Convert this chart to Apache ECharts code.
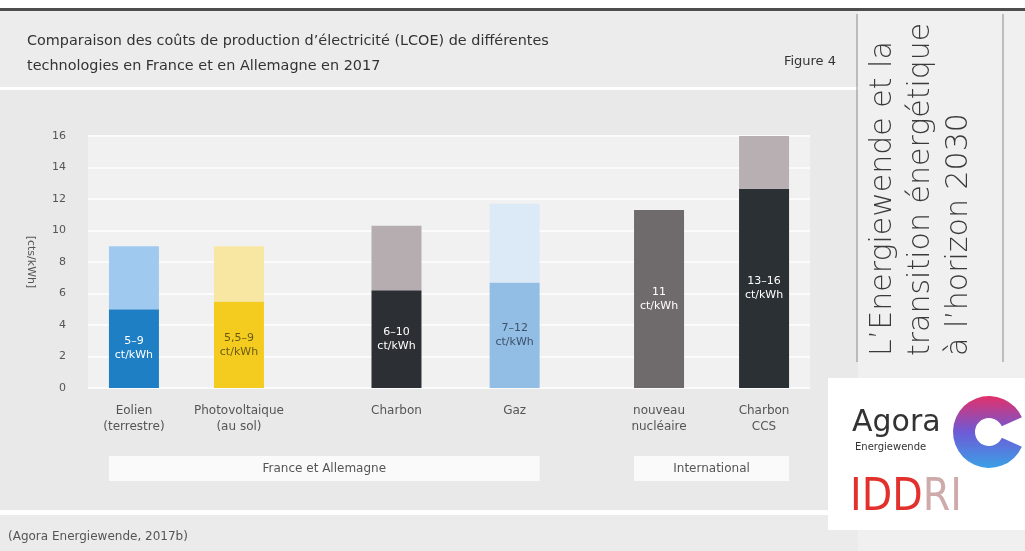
<!DOCTYPE html>
<html>
<head>
<meta charset="utf-8">
<script src="https://cdn.jsdelivr.net/npm/echarts@6/dist/echarts.min.js"></script>
<style>
  html, body { margin: 0; padding: 0; background: #fff; }
  #chart { width: 1025px; height: 551px; }
</style>
</head>
<body>
<div id="chart"></div>
<script>
// données (ct/kWh)
const categories = ['Eolien\n(terrestre)', 'Photovoltaique\n(au sol)', 'Charbon', 'Gaz', 'nouveau\nnucléaire', 'Charbon\nCCS'];
const lowValues = [5, 5.5, 6.2, 6.7, 11.3, 12.65];
const highValues = [9, 9, 10.3, 11.7, 11.3, 16];
const rangeLabels = ['5–9', '5,5–9', '6–10', '7–12', '11', '13–16'];
const groupNames = ['France et Allemagne', 'International'];
const groupMembers = [[0, 1, 2, 3], [4, 5]];
const yTicks = [0, 2, 4, 6, 8, 10, 12, 14, 16];

// mise en page : emplacement de chaque barre sur l'axe (cases vides entre les barres)
const slotCount = 55;
const slotOf = [3, 11, 23, 32, 43, 51];
const barW = 50;

// couleurs
const baseColors = ['#1f7fc4', '#f3cc1f', '#2c3034', '#92bee6', '#6f6a6b', '#2b3034'];
const topColors = ['#9fc9ee', '#f7e7a2', '#b5adb0', '#dce9f6', '#6f6a6b', '#b8afb2'];
const labelColors = ['#ffffff', '#6b5a14', '#ffffff', '#3d5168', '#ffffff', '#ffffff'];
const FONT = 'DejaVu Sans';

let xData = Array(slotCount).fill('');
let baseData = Array(slotCount).fill('-');
let topData = Array(slotCount).fill('-');
categories.forEach((c, i) => {
  let s = slotOf[i];
  xData[s] = c;
  baseData[s] = {value: lowValues[i], itemStyle: {color: baseColors[i]}, label: {color: labelColors[i]}};
  let d = highValues[i] - lowValues[i];
  topData[s] = d > 0 ? {value: d, itemStyle: {color: topColors[i]}} : '-';
});

let myChart = echarts.init(document.getElementById('chart'));

const bgGraphics = [
  {type: 'rect', z: -10, shape: {x: 0, y: 0, width: 1025, height: 551}, style: {fill: '#ffffff'}},
  {type: 'rect', z: -10, shape: {x: 0, y: 8, width: 1025, height: 3}, style: {fill: '#4d4d4d'}},
  {type: 'rect', z: -10, shape: {x: 0, y: 11, width: 858, height: 76}, style: {fill: '#ececec'}},
  {type: 'rect', z: -10, shape: {x: 0, y: 90, width: 858, height: 420}, style: {fill: '#e9e9e9'}},
  {type: 'rect', z: -10, shape: {x: 0, y: 515, width: 858, height: 36}, style: {fill: '#ebebeb'}},
  {type: 'rect', z: -10, shape: {x: 858, y: 11, width: 167, height: 540}, style: {fill: '#f0f0f0'}},
  {type: 'line', z: -9, shape: {x1: 857, y1: 14, x2: 857, y2: 362}, style: {stroke: '#8a8a8a', lineWidth: 1}},
  {type: 'line', z: -9, shape: {x1: 1003, y1: 14, x2: 1003, y2: 362}, style: {stroke: '#8a8a8a', lineWidth: 1}},
  {type: 'rect', z: -9, shape: {x: 828, y: 378, width: 197, height: 152}, style: {fill: '#ffffff'}}
];

const sideLines = ['L’Energiewende et la', 'transition énergétique', 'à l’horizon 2030'];
const textGraphics = [
  {type: 'text', x: 836, y: 62, style: {text: 'Figure 4', font: '13px "' + FONT + '"', fill: '#333', align: 'right', verticalAlign: 'middle'}},
  {type: 'text', x: 8, y: 537, style: {text: '(Agora Energiewende, 2017b)', font: '12px "' + FONT + '"', fill: '#555', align: 'left', verticalAlign: 'middle'}},
  {type: 'text', x: 852, y: 423, style: {text: 'Agora', font: '30px "' + FONT + '"', fill: '#333', align: 'left', verticalAlign: 'middle'}},
  {type: 'text', x: 855, y: 447, style: {text: 'Energiewende', font: '10px "' + FONT + '"', fill: '#333', align: 'left', verticalAlign: 'middle'}},
  {type: 'text', x: 850, y: 499, style: {
    text: '{a|IDD}{b|RI}', align: 'left', verticalAlign: 'middle',
    rich: {
      a: {fontSize: 44, fontFamily: '"DejaVu Sans Condensed", Roboto, sans-serif', fontWeight: 200, fill: '#e2312d', color: '#e2312d'},
      b: {fontSize: 44, fontFamily: '"DejaVu Sans Condensed", Roboto, sans-serif', fontWeight: 200, fill: '#cfaaaa', color: '#cfaaaa'}
    }
  }},
  {type: 'sector', shape: {cx: 989, cy: 432, r: 36, r0: 14, startAngle: 0.42, endAngle: Math.PI * 2 - 0.42, clockwise: true},
    style: {fill: new echarts.graphic.LinearGradient(0, 0, 0, 1, [
      {offset: 0, color: '#e2306a'}, {offset: 0.5, color: '#6e5ad6'}, {offset: 1, color: '#3aa0e6'}
    ])}}
].concat(sideLines.map((t, i) => ({
  type: 'text', x: 883 + i * 38, y: 356, rotation: Math.PI / 2,
  style: {text: t, font: '200 30px "' + FONT + '"', fill: '#3a3a3a', align: 'left', verticalAlign: 'middle'}
})));

myChart.setOption({
  animation: false,
  textStyle: {fontFamily: FONT},
  title: {
    text: 'Comparaison des coûts de production d’électricité (LCOE) de différentes\ntechnologies en France et en Allemagne en 2017',
    left: 22,
    top: 24,
    textStyle: {fontSize: 14.4, fontWeight: 'normal', color: '#333', lineHeight: 25, fontFamily: FONT}
  },
  grid: {
    show: true,
    backgroundColor: '#f1f1f1',
    borderWidth: 0,
    left: 88,
    right: 215,
    top: 136,
    bottom: 163,
    containLabel: false
  },
  xAxis: {
    type: 'category',
    data: xData,
    axisLine: {show: false},
    axisTick: {show: false},
    axisLabel: {interval: 0, color: '#555', fontSize: 12, lineHeight: 16, margin: 15}
  },
  yAxis: {
    type: 'value',
    min: yTicks[0],
    max: yTicks[yTicks.length - 1],
    interval: 2,
    name: '[cts/kWh]',
    nameLocation: 'middle',
    nameRotate: -90,
    nameGap: 52,
    nameTextStyle: {color: '#555', fontSize: 11},
    axisLine: {show: false},
    axisTick: {show: false},
    axisLabel: {color: '#555', fontSize: 11, margin: 22},
    splitLine: {lineStyle: {color: '#fbfbfb', width: 2}}
  },
  series: [{
    name: 'min',
    type: 'bar',
    stack: 'lcoe',
    barWidth: barW,
    data: baseData,
    label: {
      show: true,
      position: 'inside',
      fontSize: 11,
      lineHeight: 14,
      formatter: function (p) {
        let i = slotOf.indexOf(p.dataIndex);
        return rangeLabels[i] + '\nct/kWh';
      }
    }
  }, {
    name: 'max',
    type: 'bar',
    stack: 'lcoe',
    barWidth: barW,
    data: topData
  }],
  graphic: bgGraphics.concat(textGraphics)
});

// cadres des groupes sous l'axe
let boxGraphics = [];
groupMembers.forEach((m, g) => {
  let x0 = myChart.convertToPixel({gridIndex: 0}, [slotOf[m[0]], 0])[0] - barW / 2;
  let x1 = myChart.convertToPixel({gridIndex: 0}, [slotOf[m[m.length - 1]], 0])[0] + barW / 2;
  boxGraphics.push({type: 'rect', shape: {x: x0, y: 456, width: x1 - x0, height: 25}, style: {fill: '#fafafa'}});
  boxGraphics.push({type: 'text', x: (x0 + x1) / 2, y: 469, style: {text: groupNames[g], font: '12px "' + FONT + '"', fill: '#555', align: 'center', verticalAlign: 'middle'}});
});
myChart.setOption({graphic: bgGraphics.concat(textGraphics).concat(boxGraphics)});
</script>
</body>
</html>
